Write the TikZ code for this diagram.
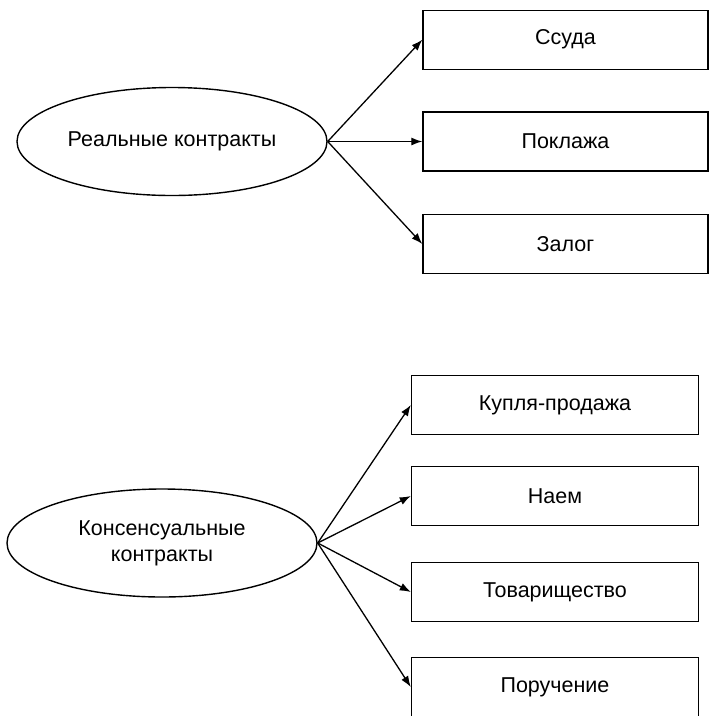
\documentclass[tikz,border=0pt]{standalone}
\usepackage{fontspec}
\setmainfont{Liberation Sans}
\usetikzlibrary{shapes.geometric,arrows.meta}
\begin{document}
\begin{tikzpicture}[x=1pt,y=-1pt,
  txt/.style={font=\fontsize{21.5}{26}\selectfont},
  ell/.style={draw, ellipse, line width=1.4pt, minimum width=310pt, minimum height=108pt,
    inner sep=0pt, txt, align=center},
  box/.style={draw, rectangle, line width=1.4pt, minimum height=59pt, inner sep=0pt, txt},
  topbox/.style={box, minimum width=285pt},
  botbox/.style={box, minimum width=287pt},
  arr/.style={line width=1.3pt, -{Latex[length=11pt,width=8pt]}}]
\useasboundingbox (0,0) rectangle (709,716);
\node[ell] (real) at (172,141.5) {Реальные контракты};
\node[topbox] (ssuda) at (565.5,39.7) {Ссуда};
\node[topbox] (poklazha) at (565.5,141.5) {Поклажа};
\node[topbox] (zalog) at (565.5,244) {Залог};
\draw[arr] (real.east) -- (ssuda.west);
\draw[arr] (real.east) -- (poklazha.west);
\draw[arr] (real.east) -- (zalog.west);

\node[ell] (kons) at (162,543) {Консенсуальные\\контракты};
\node[botbox] (kupla) at (555,405) {Купля-продажа};
\node[botbox] (naem) at (555,496) {Наем};
\node[botbox] (tovar) at (555,592) {Товарищество};
\node[botbox] (poruch) at (555,687) {Поручение};
\draw[arr] (kons.east) -- (kupla.west);
\draw[arr] (kons.east) -- (naem.west);
\draw[arr] (kons.east) -- (tovar.west);
\draw[arr] (kons.east) -- (poruch.west);
\end{tikzpicture}
\end{document}
